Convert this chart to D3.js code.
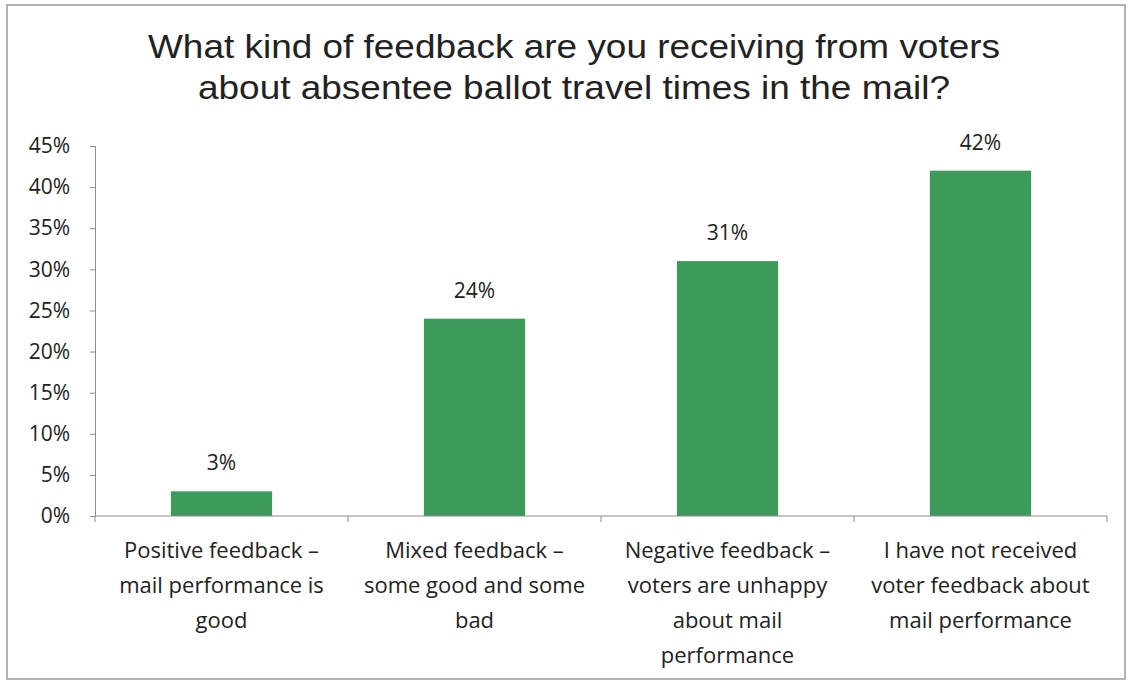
<!DOCTYPE html>
<html>
<head>
<meta charset="utf-8">
<script src="https://cdn.jsdelivr.net/npm/d3@7"></script>
<style>
  body { margin: 0; background: #fff; }
  svg text { fill: #222; }
</style>
</head>
<body>
<svg id="chart" width="1132" height="683"></svg>
<script>
// chart data
const titleLines = ["What kind of feedback are you receiving from voters",
                    "about absentee ballot travel times in the mail?"];
const categories = [
  ["Positive feedback –", "mail performance is", "good"],
  ["Mixed feedback –", "some good and some", "bad"],
  ["Negative feedback –", "voters are unhappy", "about mail", "performance"],
  ["I have not received", "voter feedback about", "mail performance"]
];
const values = [3, 24, 31, 42];
const yTicks = [0, 5, 10, 15, 20, 25, 30, 35, 40, 45];

const svg = d3.select("#chart");
const margin = {left: 95, right: 25, top: 146, bottom: 167};
const width = 1132, height = 683;
const labelFont = "'Open Sans', Lato, sans-serif";

// frame of the scanned chart
svg.append("rect")
  .attr("x", 7).attr("y", 5)
  .attr("width", 1118).attr("height", 674)
  .attr("fill", "none")
  .attr("stroke", "#9a9a9a")
  .attr("stroke-width", 1.5);

// title (the scan is a bit wider than the plain font, so stretch it)
const titleWidths = [852, 752];
svg.append("text")
  .attr("text-anchor", "middle")
  .style("font-family", "'Liberation Sans', Arial, sans-serif")
  .style("font-size", "33px")
  .selectAll("tspan")
  .data(titleLines)
  .enter()
  .append("tspan")
  .attr("x", 0)
  .attr("y", (d, i) => 58 + i * 41)
  .attr("text-anchor", "start")
  .attr("x", (d, i) => 574 - titleWidths[i] / 2)
  .attr("textLength", (d, i) => titleWidths[i])
  .attr("lengthAdjust", "spacingAndGlyphs")
  .text(d => d);

let x = d3.scaleBand()
  .domain(d3.range(categories.length))
  .range([margin.left, width - margin.right])
  .paddingInner(0.6)
  .paddingOuter(0.3);

let y = d3.scaleLinear()
  .domain([0, 45])
  .range([height - margin.bottom, margin.top]);

// y axis
let yAxis = svg.append("g")
  .attr("transform", `translate(${margin.left},0)`)
  .call(d3.axisLeft(y).tickValues(yTicks).tickFormat(d => d + "%").tickSizeOuter(0).tickSize(5).tickPadding(20));
yAxis.select(".domain").attr("stroke", "#8c8c8c");
yAxis.selectAll(".tick line").attr("stroke", "#8c8c8c");
yAxis.selectAll("text")
  .style("font-family", labelFont)
  .style("font-size", "21px")
  .attr("fill", "#222");

// bars
svg.selectAll("rect.bar")
  .data(values)
  .enter()
  .append("rect")
  .attr("class", "bar")
  .attr("x", (d, i) => x(i))
  .attr("y", d => y(d))
  .attr("width", x.bandwidth())
  .attr("height", d => y(0) - y(d))
  .attr("fill", "#3c9a5b");

// value labels
svg.selectAll("text.val")
  .data(values)
  .enter()
  .append("text")
  .attr("class", "val")
  .attr("x", (d, i) => x(i) + x.bandwidth() / 2)
  .attr("y", d => y(d) - 21)
  .attr("text-anchor", "middle")
  .style("font-family", labelFont)
  .style("font-size", "21px")
  .text(d => d + "%");

// x axis line and ticks at band boundaries
const x0 = margin.left, x1 = width - margin.right;
svg.append("line")
  .attr("x1", x0).attr("x2", x1)
  .attr("y1", y(0)).attr("y2", y(0))
  .attr("stroke", "#8c8c8c");
svg.selectAll("line.xtick")
  .data(d3.range(categories.length + 1))
  .enter()
  .append("line")
  .attr("class", "xtick")
  .attr("x1", i => x0 + i * (x1 - x0) / categories.length)
  .attr("x2", i => x0 + i * (x1 - x0) / categories.length)
  .attr("y1", y(0)).attr("y2", y(0) + 6)
  .attr("stroke", "#8c8c8c");

// category labels
svg.selectAll("text.cat")
  .data(categories)
  .enter()
  .append("text")
  .attr("class", "cat")
  .attr("text-anchor", "middle")
  .style("font-family", labelFont)
  .style("font-size", "22px")
  .each(function(lines, i) {
    d3.select(this).selectAll("tspan")
      .data(lines)
      .enter()
      .append("tspan")
      .attr("x", x(i) + x.bandwidth() / 2)
      .attr("y", (d, j) => 558 + j * 35)
      .text(d => d);
  });
</script>
</body>
</html>
